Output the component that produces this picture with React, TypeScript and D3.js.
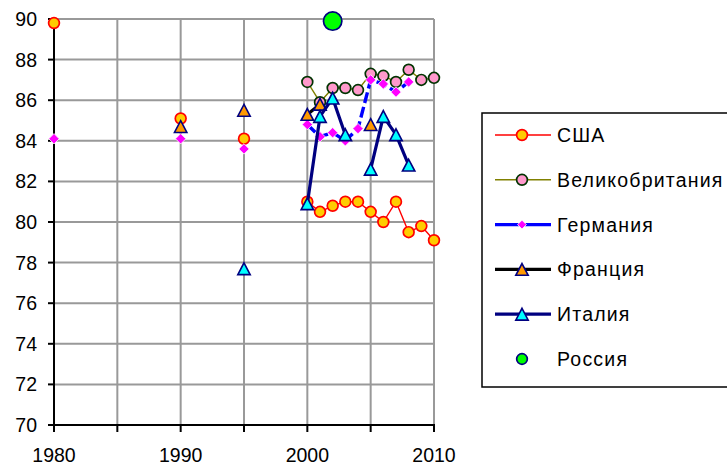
import React from "react";
import * as d3 from "d3";

const years = [1980, 1990, 1995, 2000, 2001, 2002, 2003, 2004, 2005, 2006, 2007, 2008, 2009, 2010];
const usa = [89.8, 85.1, 84.1, 81.0, 80.5, 80.8, 81.0, 81.0, 80.5, 80.0, 81.0, 79.5, 79.8, 79.1];
const uk = [null, null, null, 86.9, 85.9, 86.6, 86.6, 86.5, 87.3, 87.2, 86.9, 87.5, 87.0, 87.1];
const germany = [84.1, 84.1, 83.6, 84.8, 84.2, 84.4, 84.0, 84.6, 87.0, 86.8, 86.4, 86.9, null, null];
const france = [null, 84.7, 85.5, 85.3, 85.8, null, null, null, 84.8, null, null, null, null, null];
const italy = [null, null, 77.7, 80.9, 85.2, 86.1, 84.3, null, 82.6, 85.2, 84.3, 82.8, null, null];
const russia = [null, null, null, null, null, 89.9, null, null, null, null, null, null, null, null];

const seriesNames = ["США", "Великобритания", "Германия", "Франция", "Италия", "Россия"];
const yTicks = [70, 72, 74, 76, 78, 80, 82, 84, 86, 88, 90];
const xTicks = [1980, 1985, 1990, 1995, 2000, 2005, 2010];
const xLabels = [1980, 1990, 2000, 2010];

type Style = {
  line: string | null;
  lineWidth: number;
  dash?: string;
  marker: "circle" | "diamond" | "triangle";
  size: number;
  fill: string;
  stroke: string;
  strokeWidth: number;
};

const styles: Style[] = [
  { line: "#FF0000", lineWidth: 1.4, marker: "circle", size: 5.4, fill: "#FFCC00", stroke: "#FF0000", strokeWidth: 1.7 },
  { line: "#808000", lineWidth: 1.4, marker: "circle", size: 5.4, fill: "#FF99CC", stroke: "#003300", strokeWidth: 1.7 },
  { line: "#0000FF", lineWidth: 3.4, dash: "11,4", marker: "diamond", size: 5.2, fill: "#FF00FF", stroke: "#FFFFFF", strokeWidth: 0.8 },
  { line: "#000000", lineWidth: 3.2, marker: "triangle", size: 6.2, fill: "#FF9900", stroke: "#000080", strokeWidth: 1.6 },
  { line: "#000080", lineWidth: 3.2, marker: "triangle", size: 6.2, fill: "#00FFFF", stroke: "#000080", strokeWidth: 1.6 },
  { line: null, lineWidth: 0, marker: "circle", size: 9.2, fill: "#00FF00", stroke: "#000080", strokeWidth: 1.7 },
];

const data = [usa, uk, germany, france, italy, russia];

const FONT = "'Liberation Sans', Arial, sans-serif";

function Marker({ x, y, s, scale = 1 }: { x: number; y: number; s: Style; scale?: number }) {
  const r = s.size * scale;
  if (s.marker === "circle") {
    return <circle cx={x} cy={y} r={r} fill={s.fill} stroke={s.stroke} strokeWidth={s.strokeWidth} />;
  }
  if (s.marker === "diamond") {
    return (
      <path
        d={`M${x},${y - r}L${x + r},${y}L${x},${y + r}L${x - r},${y}Z`}
        fill={s.fill}
        stroke={s.stroke}
        strokeWidth={s.strokeWidth}
      />
    );
  }
  const h = r * 0.95;
  return (
    <path
      d={`M${x},${y - h}L${x + r},${y + h}L${x - r},${y + h}Z`}
      fill={s.fill}
      stroke={s.stroke}
      strokeWidth={s.strokeWidth}
      strokeLinejoin="miter"
    />
  );
}

export default function App() {
  const width = 727;
  const height = 470;
  const x = d3.scaleLinear().domain([1980, 2010]).range([54, 434]);
  const y = d3.scaleLinear().domain([70, 90]).range([425, 19]);

  // split into segments of consecutive years
  const segments = (vals: (number | null)[]) => {
    const segs: [number, number][][] = [];
    let cur: [number, number][] = [];
    vals.forEach((v, i) => {
      const prevYear = i > 0 ? years[i - 1] : null;
      if (v == null) {
        if (cur.length) segs.push(cur);
        cur = [];
        return;
      }
      if (cur.length && prevYear !== null && years[i] - prevYear > 1) {
        segs.push(cur);
        cur = [];
      }
      cur.push([years[i], v]);
    });
    if (cur.length) segs.push(cur);
    return segs.filter((s) => s.length > 1);
  };

  const line = d3
    .line<[number, number]>()
    .x((d) => x(d[0]))
    .y((d) => y(d[1]));

  const legendX = 482;
  const legendY = 113;
  const legendRowY = (i: number) => 135 + i * 44.8;

  return (
    <svg width={width} height={height} style={{ position: "absolute", left: 0, top: 0, background: "#fff" }}>
      <rect x={0} y={0} width={width} height={height} fill="#fff" />
      {/* grid */}
      {yTicks.filter((t) => t !== 70).map((t) => (
        <line key={"gy" + t} x1={x(1980)} x2={x(2010)} y1={y(t)} y2={y(t)} stroke="#999999" strokeWidth={2} />
      ))}
      {xTicks.filter((t) => t !== 1980).map((t) => (
        <line key={"gx" + t} x1={x(t)} x2={x(t)} y1={y(70)} y2={y(90)} stroke="#999999" strokeWidth={2} />
      ))}
      {/* axes */}
      <line x1={x(1980)} x2={x(1980)} y1={y(70) + 1} y2={y(90)} stroke="#000" strokeWidth={2} />
      <line x1={x(1980) - 1} x2={x(2010) + 1} y1={y(70)} y2={y(70)} stroke="#000" strokeWidth={2} />
      {yTicks.map((t) => (
        <g key={"yt" + t}>
          <line x1={x(1980) - 6} x2={x(1980)} y1={y(t)} y2={y(t)} stroke="#000" strokeWidth={2} />
          <text x={37} y={y(t) + 7} textAnchor="end" fontFamily={FONT} fontSize={19.5} fill="#000">
            {t}
          </text>
        </g>
      ))}
      {xTicks.map((t) => (
        <line key={"xt" + t} x1={x(t)} x2={x(t)} y1={y(70)} y2={y(70) + 7} stroke="#000" strokeWidth={2} />
      ))}
      {xLabels.map((t) => (
        <text key={"xl" + t} x={x(t)} y={462} textAnchor="middle" fontFamily={FONT} fontSize={19.5} fill="#000">
          {t}
        </text>
      ))}
      {/* series */}
      {data.map((vals, si) => {
        const s = styles[si];
        return (
          <g key={"s" + si}>
            {s.line &&
              segments(vals).map((seg, k) => (
                <path
                  key={k}
                  d={line(seg) || ""}
                  fill="none"
                  stroke={s.line!}
                  strokeWidth={s.lineWidth}
                  strokeDasharray={s.dash}
                  strokeLinejoin="round"
                />
              ))}
            {vals.map((v, i) =>
              v == null ? null : <Marker key={i} x={x(years[i])} y={y(v)} s={s} />
            )}
          </g>
        );
      })}
      {/* legend */}
      <rect x={legendX} y={legendY} width={260} height={274} fill="#fff" stroke="#000" strokeWidth={1.5} />
      {seriesNames.map((name, i) => {
        const s = styles[i];
        const ly = legendRowY(i);
        return (
          <g key={"lg" + i}>
            {s.line && (
              <line x1={495} x2={551} y1={ly} y2={ly} stroke={s.line} strokeWidth={s.lineWidth} />
            )}
            <Marker x={522} y={ly} s={s} scale={i === 5 ? 0.58 : i === 2 ? 0.85 : 1} />
            <text x={557} y={ly + 7} fontFamily={FONT} fontSize={19.5} letterSpacing={1.2} fill="#000">
              {name}
            </text>
          </g>
        );
      })}
    </svg>
  );
}
